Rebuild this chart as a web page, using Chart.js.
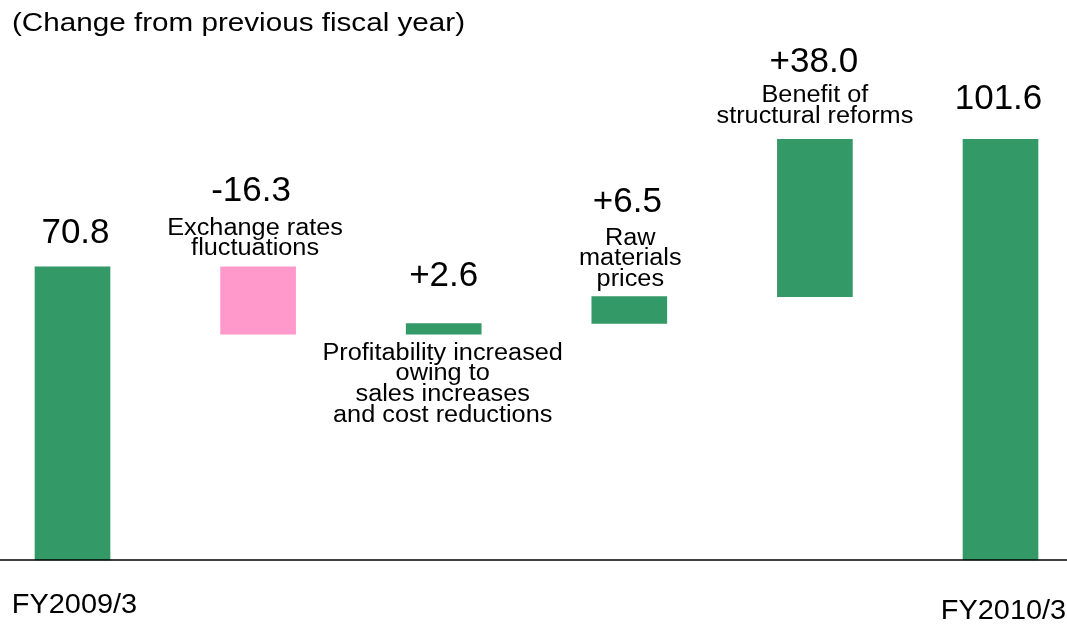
<!DOCTYPE html>
<html>
<head>
<meta charset="utf-8">
<script src="https://cdn.jsdelivr.net/npm/chart.js@4"></script>
<style>
  html, body { margin: 0; padding: 0; background: #fff; }
  #wrap { width: 1067px; height: 626px; }
</style>
</head>
<body>
<div id="wrap"><canvas id="grafico" width="1067" height="626"></canvas></div>
<script>
// data
const categorias = ["FY2009/3", "Exchange rates fluctuations", "Profitability increased owing to sales increases and cost reductions", "Raw materials prices", "Benefit of structural reforms", "FY2010/3"];
const tipos = ["total", "delta", "delta", "delta", "delta", "total"];
const valores = [70.8, -16.3, 2.6, 6.5, 38.0, 101.6];
const rotulosValor = ["70.8", "-16.3", "+2.6", "+6.5", "+38.0", "101.6"];
const rotulosTexto = [
  [],
  ["Exchange rates", "fluctuations"],
  ["Profitability increased", "owing to", "sales increases", "and cost reductions"],
  ["Raw", "materials", "prices"],
  ["Benefit of", "structural reforms"],
  []
];
const titulo = "(Change from previous fiscal year)";

// waterfall ranges
let acumulado = 0;
const faixas = valores.map((v, i) => {
  if (tipos[i] === "total") { acumulado = v; return [0, v]; }
  const ini = acumulado;
  acumulado = +(acumulado + v).toFixed(1);
  return [ini, acumulado];
});
const cores = valores.map((v, i) => (tipos[i] === "delta" && v < 0) ? "#FF99CC" : "#339966");

// text layout (pixel offsets from bar top / center)
const layoutValor = [[3, -24], [-7, -66], [0, -38], [-2, -85], [-1, -67], [-2, -30]];
const layoutTexto = [null, [-3, -32], [-1, 36], [1, -52], [0, -37], null];
const FONTE = "'Liberation Sans', Arial, sans-serif";

function texto(ctx, t, x, y, tam, sx, align) {
  ctx.save();
  ctx.translate(x, y);
  ctx.scale(sx, 1);
  ctx.font = tam + "px " + FONTE;
  ctx.fillStyle = "#000";
  ctx.textAlign = align || "center";
  ctx.textBaseline = "alphabetic";
  ctx.fillText(t, 0, 0);
  ctx.restore();
}

const anotacoes = {
  id: "anotacoes",
  afterDatasetsDraw(chart) {
    const ctx = chart.ctx;
    const meta = chart.getDatasetMeta(0);

    // baseline
    const y0 = chart.scales.y.getPixelForValue(0);
    ctx.save();
    ctx.strokeStyle = "#000";
    ctx.lineWidth = 1.3;
    ctx.beginPath();
    ctx.moveTo(0, y0);
    ctx.lineTo(chart.width, y0);
    ctx.stroke();
    ctx.restore();

    meta.data.forEach((bar, i) => {
      const topo = Math.min(bar.y, bar.base);
      const lv = layoutValor[i];
      texto(ctx, rotulosValor[i], bar.x + lv[0], topo + lv[1], 35, 1.0);
      const lt = layoutTexto[i];
      if (lt) {
        rotulosTexto[i].forEach((linha, k) => {
          texto(ctx, linha, bar.x + lt[0], topo + lt[1] + k * 20.7, 23, 1.1);
        });
      }
    });

    // category labels
    texto(ctx, categorias[0], meta.data[0].x + 2, 613, 27, 1.07);
    texto(ctx, categorias[5], meta.data[5].x + 3, 619, 27, 1.07);

    // title
    texto(ctx, titulo, 12, 31, 26, 1.14, "left");
  }
};

new Chart(document.getElementById("grafico").getContext("2d"), {
  type: "bar",
  data: {
    labels: categorias,
    datasets: [{
      data: faixas,
      backgroundColor: cores,
      borderWidth: 0,
      barThickness: 75,
      clip: false
    }]
  },
  options: {
    responsive: false,
    devicePixelRatio: 1,
    animation: false,
    layout: { padding: { left: 72.5, right: 66.5, top: 63, bottom: 66 } },
    plugins: { legend: { display: false }, tooltip: { enabled: false } },
    scales: {
      x: { display: false, offset: false },
      y: { display: false, min: 0, max: 120 }
    }
  },
  plugins: [anotacoes]
});
</script>
</body>
</html>
